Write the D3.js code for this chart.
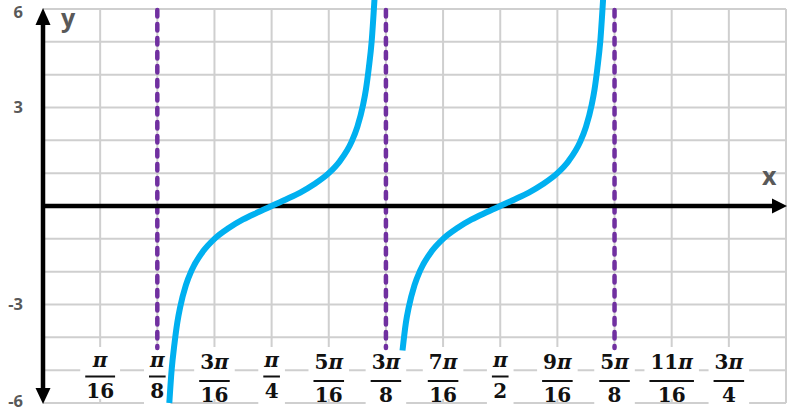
<!DOCTYPE html>
<html>
<head>
<meta charset="utf-8">
<script src="https://cdn.jsdelivr.net/npm/d3@7"></script>
<style>
  html, body { margin: 0; padding: 0; background: #fff; }
  svg { display: block; }
</style>
</head>
<body>
<div id="chart"></div>
<script>
// ---- data (x in units of π/16) ----
const tickPositions = [1, 2, 3, 4, 5, 6, 7, 8, 9, 10, 11, 12];
const tickNumerators = ["π", "π", "3π", "π", "5π", "3π", "7π", "π", "9π", "5π", "11π", "3π"];
const tickDenominators = ["16", "8", "16", "4", "16", "8", "16", "2", "16", "8", "16", "4"];
const yTickValues = [6, 3, -3, -6];
const yGridValues = [-6, -5, -4, -3, -2, -1, 0, 1, 2, 3, 4, 5, 6];
const xGridValues = [1, 2, 3, 4, 5, 6, 7, 8, 9, 10, 11, 12, 13];
const asymptotes = [2, 6, 10];
const branch1X = [2.21, 2.25, 2.3, 2.35, 2.4, 2.5, 2.6, 2.8, 3.0, 3.25, 3.5, 3.75, 4.0, 4.25, 4.5, 4.75, 5.0, 5.2, 5.4, 5.5, 5.6, 5.65, 5.7, 5.75, 5.8];
const branch1Y = [-6.0, -5.0, -4.2, -3.55, -3.08, -2.41, -1.96, -1.38, -1.0, -0.67, -0.41, -0.2, 0, 0.2, 0.41, 0.67, 1.0, 1.38, 1.96, 2.41, 3.08, 3.55, 4.2, 5.0, 6.3];
const branch2X = [6.29, 6.35, 6.4, 6.5, 6.6, 6.8, 7.0, 7.25, 7.5, 7.75, 8.0, 8.25, 8.5, 8.75, 9.0, 9.2, 9.4, 9.5, 9.6, 9.65, 9.7, 9.75, 9.8];
const branch2Y = [-4.4, -3.55, -3.08, -2.41, -1.96, -1.38, -1.0, -0.67, -0.41, -0.2, 0, 0.2, 0.41, 0.67, 1.0, 1.38, 1.96, 2.41, 3.08, 3.55, 4.2, 5.0, 6.3];

// ---- layout ----
const W = 800, H = 412;
const x = d3.scaleLinear().domain([0, 13]).range([43, 786]);
const y = d3.scaleLinear().domain([-6, 6]).range([403, 9]);

const svg = d3.select("#chart").append("svg").attr("width", W).attr("height", H);

// grid
const grid = svg.append("g").attr("stroke", "#cfcfcf").attr("stroke-width", 2);
grid.selectAll("line.h").data(yGridValues).join("line")
  .attr("x1", x(0)).attr("x2", x(13))
  .attr("y1", d => y(d)).attr("y2", d => y(d));
grid.selectAll("line.v").data(xGridValues).join("line")
  .attr("x1", d => x(d)).attr("x2", d => x(d))
  .attr("y1", y(6)).attr("y2", y(-6));

// label boxes + labels
const labelFont = "'DejaVu Serif', serif";
const labels = svg.append("g");
const labelData = tickPositions.map((p, i) => ({
  p, num: tickNumerators[i], den: tickDenominators[i], simple: tickNumerators[i] === "π"
}));
const boxes = labels.append("g");
const texts = labels.append("g");
function writeWithPi(t, s) {
  const parts = s.split("π");
  if (parts[0]) t.append("tspan").text(parts[0]);
  if (s.includes("π")) t.append("tspan").attr("font-style", "italic").text("π");
}
labelData.forEach(d => {
  const cx = x(d.p);
  const g = texts.append("g");
  const numBase = d.simple ? 367 : 369;
  const barY = d.simple ? 376.5 : 381;
  const denBase = d.simple ? 397.5 : 401.5;
  const n = g.append("text").attr("x", cx).attr("y", numBase)
    .attr("text-anchor", "middle").attr("font-family", labelFont)
    .attr("font-weight", "bold").attr("font-size", 20).attr("fill", "#111");
  writeWithPi(n, d.num);
  const dn = g.append("text").attr("x", cx).attr("y", denBase)
    .attr("text-anchor", "middle").attr("font-family", labelFont)
    .attr("font-weight", "bold").attr("font-size", 20).attr("fill", "#111").text(d.den);
  const w = Math.max(n.node().getComputedTextLength(), dn.node().getComputedTextLength()) + 2;
  g.append("line").attr("x1", cx - w / 2).attr("x2", cx + w / 2)
    .attr("y1", barY).attr("y2", barY).attr("stroke", "#111").attr("stroke-width", 2);
  const bw = w + 10;
  boxes.append("rect").attr("x", cx - bw / 2).attr("width", bw)
    .attr("y", 347).attr("height", (d.den === "16" ? 399 : 406) - 347).attr("fill", "#fff");
});

// asymptotes
svg.append("g").selectAll("line").data(asymptotes).join("line")
  .attr("x1", d => x(d)).attr("x2", d => x(d))
  .attr("y1", y(6) + 1).attr("y2", 348)
  .attr("stroke", "#7030a0").attr("stroke-width", 4.5)
  .attr("stroke-dasharray", "6.5 7.5").attr("stroke-linecap", "round");

// axes
const axes = svg.append("g");
axes.append("line").attr("x1", x(0)).attr("x2", 773).attr("y1", y(0)).attr("y2", y(0))
  .attr("stroke", "#000").attr("stroke-width", 4.5);
axes.append("path").attr("d", `M787,${y(0)} L772,${y(0) - 7.5} L772,${y(0) + 7.5} Z`).attr("fill", "#000");
axes.append("line").attr("x1", x(0)).attr("x2", x(0)).attr("y1", 24).attr("y2", 389)
  .attr("stroke", "#000").attr("stroke-width", 4.5);
axes.append("path").attr("d", `M${x(0)},8 L${x(0) - 7.5},25 L${x(0) + 7.5},25 Z`).attr("fill", "#000");
axes.append("path").attr("d", `M${x(0)},404 L${x(0) - 7.5},388 L${x(0) + 7.5},388 Z`).attr("fill", "#000");

// curves
const line = d3.line().x(d => x(d[0])).y(d => y(d[1])).curve(d3.curveMonotoneX);
const b1 = branch1X.map((v, i) => [v, branch1Y[i]]);
const b2 = branch2X.map((v, i) => [v, branch2Y[i]]);
svg.append("g").selectAll("path").data([b1, b2]).join("path")
  .attr("d", line).attr("fill", "none").attr("stroke", "#00b0f0")
  .attr("stroke-width", 6).attr("stroke-linecap", "butt");

// y tick labels
svg.append("g").selectAll("text").data(yTickValues).join("text")
  .attr("x", 23).attr("y", d => y(d) + (d === 6 ? 3 : d === -6 ? -1.5 : 0)).attr("dy", "0.36em")
  .attr("text-anchor", "end").attr("font-family", "'Open Sans', sans-serif")
  .attr("font-weight", "bold").attr("font-size", 16.5).attr("fill", "#595959")
  .text(d => d);

// axis names
svg.append("text").attr("x", 61).attr("y", 27).attr("font-family", "'Open Sans', sans-serif")
  .attr("font-weight", "bold").attr("font-size", 25).attr("fill", "#595959").text("y");
svg.append("text").attr("x", 762).attr("y", 185).attr("font-family", "'Open Sans', sans-serif")
  .attr("font-weight", "bold").attr("font-size", 25).attr("fill", "#595959").text("x");
</script>
</body>
</html>
